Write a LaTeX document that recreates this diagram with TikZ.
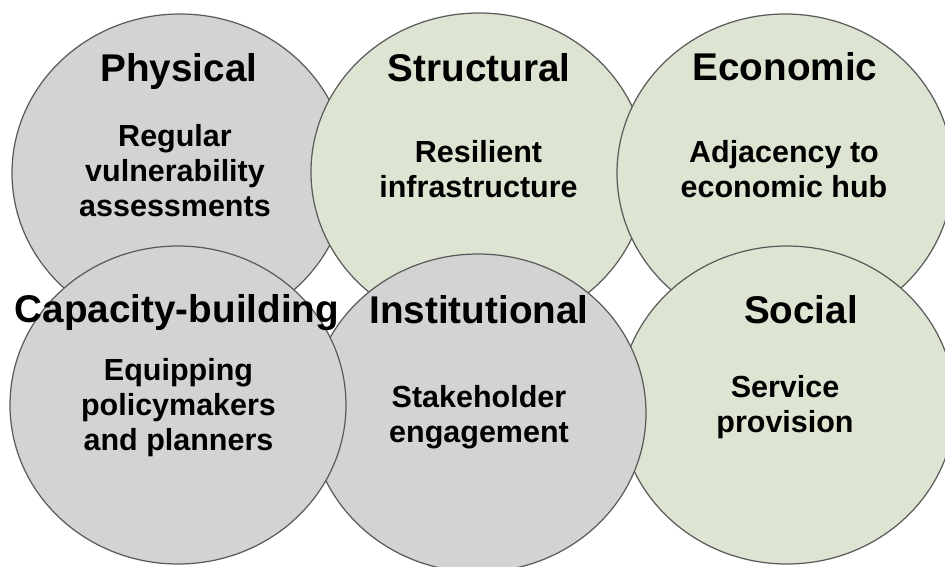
\documentclass[tikz,border=0pt]{standalone}
\usepackage{fontspec}
\setmainfont{Liberation Sans}
\usepackage{tikz}
\usepackage{xcolor}

\definecolor{ringgray}{RGB}{211,211,211}
\definecolor{ringgreen}{RGB}{221,229,210}
\definecolor{ringline}{RGB}{90,90,90}

\begin{document}
\begin{tikzpicture}[
    ring/.style={draw=ringline, line width=0.7pt},
    title/.style={anchor=base, font=\fontsize{22}{24}\selectfont\bfseries},
    note/.style={align=center, font=\fontsize{17.35}{19.9}\selectfont\bfseries}
  ]
  \useasboundingbox (0,0) rectangle (18.9,-11.34);
  \clip (0,0) rectangle (18.9,-11.34);

  % top row, left to right
  \draw[ring, fill=ringgray]  (3.60,-3.46) ellipse [x radius=3.36cm, y radius=3.18cm];
  \draw[ring, fill=ringgreen] (9.58,-3.44) ellipse [x radius=3.36cm, y radius=3.18cm];
  \draw[ring, fill=ringgreen] (15.70,-3.46) ellipse [x radius=3.36cm, y radius=3.18cm];
  % bottom row, right to left
  \draw[ring, fill=ringgreen] (15.74,-8.10) ellipse [x radius=3.36cm, y radius=3.18cm];
  \draw[ring, fill=ringgray]  (9.56,-8.26) ellipse [x radius=3.36cm, y radius=3.18cm];
  \draw[ring, fill=ringgray]  (3.56,-8.10) ellipse [x radius=3.36cm, y radius=3.18cm];

  \node[title] (phys)     at (3.58,-1.62)  {Physical};
  \node[title] (struct)   at (9.58,-1.62)  {Structural};
  \node[title] (econ)     at (15.70,-1.60) {Economic};
  \node[title] (capbuild) at (3.54,-6.44)  {Capacity-building};
  \node[title] (inst)     at (9.58,-6.46)  {Institutional};
  \node[title] (social)   at (16.02,-6.46) {Social};

  \node[note] (physNote)     at (3.50,-3.42)  {Regular\\vulnerability\\assessments};
  \node[note] (structNote)   at (9.57,-3.39)  {Resilient\\infrastructure};
  \node[note] (econNote)     at (15.68,-3.39) {Adjacency to\\economic hub};
  \node[note] (capbuildNote) at (3.57,-8.16)  {Equipping\\policymakers\\and planners};
  \node[note] (instNote)     at (9.58,-8.34)  {Stakeholder\\engagement};
  \node[note] (socialNote)   at (15.70,-8.14) {Service\\provision};
\end{tikzpicture}
\end{document}
